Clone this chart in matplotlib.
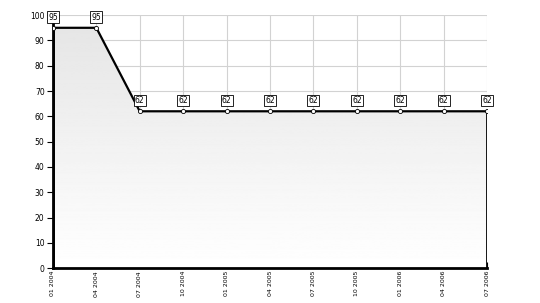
import numpy as np
import matplotlib.pyplot as plt
from matplotlib.patches import Polygon

quarters = ['01 2004', '04 2004', '07 2004', '10 2004', '01 2005', '04 2005',
            '07 2005', '10 2005', '01 2006', '04 2006', '07 2006']
values = [95, 95, 62, 62, 62, 62, 62, 62, 62, 62, 62]

fig = plt.figure(figsize=[5.4, 3.03], dpi=100)
ax = fig.add_axes([0.098, 0.115, 0.804, 0.835])
x = np.arange(len(quarters))

ax.set_xlim(0, len(quarters) - 1)
ax.set_ylim(0, 100)

# gradient fill under the line, clipped to the area polygon
verts = [(0, 0)] + list(zip(x, values)) + [(x[-1], 0)]
poly = Polygon(verts, closed=True, facecolor='none', edgecolor='none')
ax.add_patch(poly)
grad = np.linspace(0.90, 1.0, 256).reshape(-1, 1)
img = ax.imshow(grad, cmap='gray', vmin=0, vmax=1, aspect='auto',
                extent=[0, x[-1], 0, max(values)], origin='upper', zorder=1)
img.set_clip_path(poly)

ax.grid(True, color='#d2d2d2', linewidth=0.8, zorder=0)
ax.set_axisbelow(True)

# outline of the area
ax.plot([0, 0], [0, values[0]], color='black', linewidth=2, zorder=3)
ax.plot([x[-1], x[-1]], [0, values[-1]], color='black', linewidth=2, zorder=3)
ax.plot(x, values, color='black', linewidth=1.6, zorder=3)
ax.plot(x, values, linestyle='none', marker='o', markersize=3,
        markerfacecolor='white', markeredgecolor='black', markeredgewidth=0.6, zorder=4)

for xi, v in zip(x, values):
    ax.annotate(str(v), (xi, v), xytext=(0, 4.5), textcoords='offset points',
                ha='center', va='bottom', fontsize=5.5,
                bbox=dict(boxstyle='square,pad=0.15', facecolor='white',
                          edgecolor='black', linewidth=0.6), zorder=5, clip_on=False)

for s in ['top', 'right']:
    ax.spines[s].set_visible(False)
ax.spines['left'].set_linewidth(2)
ax.spines['bottom'].set_linewidth(2)

ax.set_yticks(np.arange(0, 101, 10))
ax.set_xticks(x)
ax.set_xticklabels(quarters, rotation=90, fontsize=4.5,
                   family=['Liberation Sans Narrow', 'DejaVu Sans'])
ax.tick_params(axis='y', direction='inout', length=8, width=0.8, labelsize=5.5, pad=2)
ax.tick_params(axis='x', direction='in', length=4, width=0.8, pad=2)

plt.savefig('out.png', dpi=100)
